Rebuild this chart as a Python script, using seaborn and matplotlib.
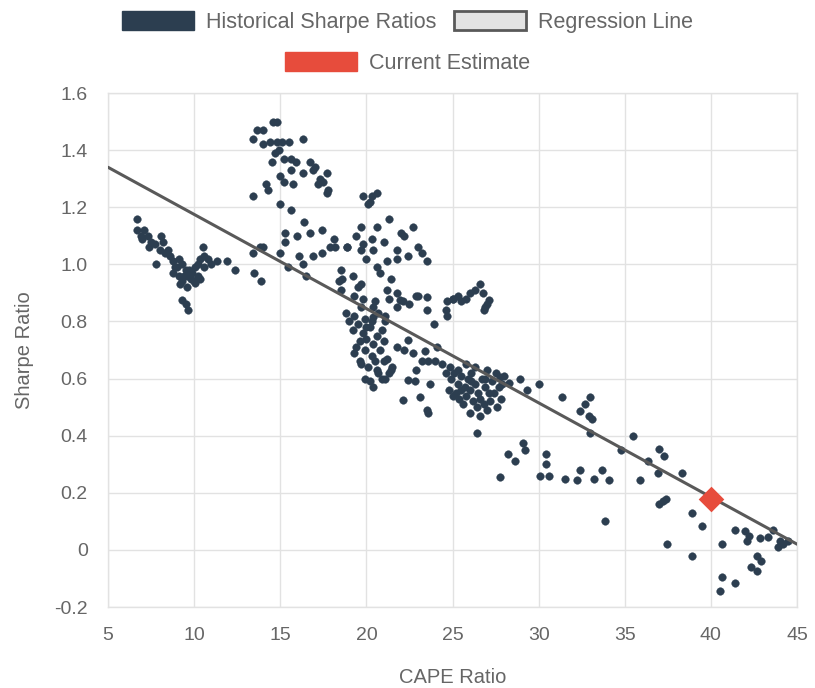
import matplotlib
matplotlib.use("Agg")
import matplotlib.pyplot as plt
import seaborn as sns
import pandas as pd
from matplotlib.patches import Patch

# Historical points, grouped by cluster (CAPE, Sharpe)
early_x = [6.7, 6.7, 6.9, 7.1, 7.3, 7.5, 7.7, 8.1, 8.2, 8.0, 8.5, 8.6, 7.8, 8.8, 9.1, 9.0, 9.3,
           9.5, 8.8, 9.1, 9.6, 9.3, 9.9, 10.05, 10.2, 10.5, 10.35, 10.6, 10.8, 11.0, 10.6, 10.35,
           10.05, 9.2, 9.6, 9.3, 9.5, 9.65, 11.3, 11.9, 12.4, 7.0, 7.4, 8.3, 9.8, 10.0, 9.4, 8.9,
           10.2, 9.7]
early_y = [1.16, 1.12, 1.10, 1.12, 1.10, 1.08, 1.07, 1.10, 1.08, 1.05, 1.05, 1.03, 1.00, 1.01,
           1.02, 0.99, 1.00, 0.98, 0.97, 0.96, 0.96, 0.94, 0.97, 0.99, 0.96, 1.06, 1.02, 1.03,
           1.02, 1.00, 0.99, 0.95, 0.935, 0.93, 0.92, 0.875, 0.86, 0.84, 1.01, 1.01, 0.98, 1.09,
           1.06, 1.04, 0.95, 0.94, 0.96, 0.99, 1.00, 0.98]

peak_x = [14.6, 14.8, 13.65, 14.0, 13.4, 14.0, 14.4, 14.8, 15.1, 15.5, 16.3, 14.7, 15.2, 15.6,
          14.5, 15.6, 16.3, 16.7, 17.0, 17.3, 17.7, 17.8, 15.0, 15.2, 15.75, 14.2, 14.3, 13.4,
          15.0, 17.2, 17.7, 16.9, 17.5, 14.9, 15.9]
peak_y = [1.50, 1.50, 1.47, 1.47, 1.44, 1.42, 1.43, 1.43, 1.43, 1.43, 1.44, 1.39, 1.37, 1.37,
          1.36, 1.33, 1.32, 1.36, 1.34, 1.30, 1.32, 1.26, 1.31, 1.29, 1.28, 1.28, 1.26, 1.24,
          1.21, 1.28, 1.25, 1.33, 1.29, 1.40, 1.36]

mid_x = [13.4, 13.8, 13.5, 13.9, 14.0, 15.0, 15.3, 15.3, 16.0, 16.4, 16.7, 17.4, 15.45, 16.1,
         16.3, 16.9, 17.4, 17.9, 18.1, 18.2, 18.5, 18.4, 18.9, 16.5, 15.6, 19.8, 20.2, 20.6,
         20.1, 20.3, 21.3, 19.7, 20.6, 22.0, 22.2, 22.7, 19.4, 19.8, 20.3, 21.0, 18.9, 19.7,
         20.4, 20.0, 21.8, 22.4, 23.0, 23.2, 23.5, 21.2, 21.8, 18.6, 19.2, 19.5, 19.3, 19.7,
         20.6, 20.8, 21.4, 21.2, 21.8, 21.95, 21.8, 22.5, 23.0, 23.5, 23.5, 23.9, 20.5, 20.4,
         19.8, 21.3, 22.1, 22.9, 25.0, 18.5]
mid_y = [1.04, 1.06, 0.97, 0.94, 1.06, 1.04, 1.11, 1.08, 1.10, 1.15, 1.11, 1.12, 0.99, 1.03,
         1.00, 1.03, 1.04, 1.06, 1.09, 1.06, 0.98, 0.94, 1.06, 0.96, 1.19, 1.24, 1.22, 1.25,
         1.21, 1.24, 1.16, 1.13, 1.13, 1.11, 1.10, 1.13, 1.10, 1.07, 1.09, 1.08, 1.06, 1.05,
         1.05, 1.02, 1.05, 1.03, 1.06, 1.04, 1.01, 1.01, 1.02, 0.95, 0.96, 0.92, 0.89, 0.93,
         0.99, 0.97, 0.95, 0.91, 0.90, 0.875, 0.85, 0.86, 0.89, 0.885, 0.84, 0.79, 0.87, 0.815,
         0.88, 0.88, 0.87, 0.89, 0.88, 0.91]

bump_x = [24.7, 25.0, 25.3, 25.5, 26.0, 26.6, 26.75, 27.1, 26.9, 26.8, 24.6, 24.7, 25.8, 26.3, 27.0]
bump_y = [0.87, 0.88, 0.89, 0.87, 0.90, 0.93, 0.90, 0.875, 0.85, 0.84, 0.84, 0.82, 0.88, 0.91, 0.86]

drop_x = [19.3, 19.9, 20.4, 21.1, 19.3, 19.7, 20.6, 20.9, 21.4, 21.8, 22.4, 22.2, 22.7, 23.4,
          23.6, 24.0, 24.4, 24.85, 25.3, 24.1, 22.4, 22.8, 23.7, 22.1, 23.1, 23.5, 23.6, 18.8,
          19.0, 19.2, 19.5, 19.8, 20.0, 20.2, 20.4, 20.6, 20.8, 21.0, 19.6, 19.9, 20.3, 20.5,
          20.1, 19.4, 19.6, 20.7, 21.1, 21.3, 21.5, 21.2, 20.9, 21.1, 20.7, 19.7, 20.0, 20.3,
          19.9, 20.2, 20.4, 21.0, 22.9, 23.2]
drop_y = [0.82, 0.81, 0.85, 0.82, 0.69, 0.65, 0.63, 0.60, 0.63, 0.71, 0.735, 0.70, 0.69, 0.695,
          0.66, 0.66, 0.65, 0.64, 0.63, 0.71, 0.595, 0.59, 0.58, 0.525, 0.535, 0.49, 0.48, 0.83,
          0.80, 0.77, 0.79, 0.76, 0.74, 0.78, 0.72, 0.75, 0.70, 0.73, 0.73, 0.70, 0.68, 0.66,
          0.64, 0.71, 0.66, 0.62, 0.60, 0.62, 0.64, 0.67, 0.77, 0.80, 0.83, 0.85, 0.78, 0.80,
          0.60, 0.59, 0.57, 0.66, 0.63, 0.66]

dense_x = [24.6, 24.9, 25.1, 25.3, 25.5, 25.7, 25.9, 26.1, 26.3, 26.5, 26.7, 26.9, 27.1, 27.3,
           27.5, 27.7, 27.8, 25.2, 25.4, 25.6, 25.8, 26.0, 26.2, 26.4, 26.6, 26.8, 27.0, 27.2,
           27.4, 27.6, 24.8, 25.0, 26.0, 26.6, 27.9, 28.0, 26.3, 25.8, 27.0, 26.1, 25.5, 26.9]
dense_y = [0.62, 0.60, 0.62, 0.58, 0.61, 0.57, 0.60, 0.62, 0.58, 0.55, 0.60, 0.57, 0.55, 0.59,
           0.62, 0.57, 0.53, 0.55, 0.53, 0.51, 0.54, 0.56, 0.52, 0.50, 0.53, 0.51, 0.49, 0.52,
           0.55, 0.50, 0.56, 0.54, 0.48, 0.47, 0.58, 0.61, 0.64, 0.65, 0.63, 0.59, 0.56, 0.60]

late_x = [27.75, 28.3, 28.9, 29.3, 30.0, 31.35, 33.0, 32.7, 32.4, 32.9, 33.1, 26.4, 33.0, 34.8,
          35.5, 36.35, 37.0, 37.3, 36.9, 38.3, 35.9, 29.1, 29.2, 28.2, 28.6, 27.75, 30.4, 30.4,
          30.1, 30.6, 31.5, 32.2, 32.4, 33.2, 33.7, 34.1, 33.85, 37.2, 37.0, 37.4, 37.45, 38.9,
          39.5, 38.9, 40.65, 41.4, 42.0, 42.1, 42.85, 43.3, 43.6, 43.9, 44.2, 44.0, 42.7, 42.9,
          42.3, 42.7, 40.65, 41.4, 40.5, 44.5, 42.2]
late_y = [0.605, 0.585, 0.60, 0.56, 0.58, 0.535, 0.535, 0.51, 0.485, 0.47, 0.46, 0.41, 0.41,
          0.35, 0.40, 0.31, 0.355, 0.33, 0.27, 0.27, 0.245, 0.375, 0.35, 0.335, 0.31, 0.255,
          0.335, 0.30, 0.26, 0.26, 0.25, 0.245, 0.28, 0.25, 0.28, 0.245, 0.10, 0.17, 0.16, 0.18,
          0.02, 0.13, 0.085, -0.02, 0.02, 0.07, 0.065, 0.03, 0.04, 0.045, 0.07, 0.01, 0.02, 0.03,
          -0.02, -0.04, -0.06, -0.075, -0.095, -0.115, -0.145, 0.03, 0.05]

# Regression line end points and current estimate
reg_x = [5, 45]
reg_y = [1.34, 0.02]
current_x = [40]
current_y = [0.18]

x_ticks = [5, 10, 15, 20, 25, 30, 35, 40, 45]
y_ticks = [-0.2, 0, 0.2, 0.4, 0.6, 0.8, 1.0, 1.2, 1.4, 1.6]
y_labels = ["-0.2", "0", "0.2", "0.4", "0.6", "0.8", "1.0", "1.2", "1.4", "1.6"]

hist = pd.DataFrame({
    "cape": early_x + peak_x + mid_x + bump_x + drop_x + dense_x + late_x,
    "sharpe": early_y + peak_y + mid_y + bump_y + drop_y + dense_y + late_y,
})

navy = "#2c3e50"
red = "#e74c3c"
line_gray = "#595959"
grid_c = "#e2e2e2"
text_c = "#666666"

sns.set_style("white")
plt.rcParams["font.family"] = ["Liberation Sans", "DejaVu Sans"]

fig = plt.figure(figsize=(8.15, 6.88), dpi=100)
ax = fig.add_axes([0.1325, 0.1177, 0.8455, 0.7471])

sns.scatterplot(data=hist, x="cape", y="sharpe", color=navy, s=30, edgecolor=navy,
                linewidth=0.3, ax=ax, zorder=3)
sns.lineplot(x=reg_x, y=reg_y, color=line_gray, linewidth=2.2, ax=ax, zorder=4)
ax.scatter(current_x, current_y, marker="D", s=170, color=red, zorder=5, linewidths=0)

ax.set_xlim(5, 45)
ax.set_ylim(-0.2, 1.6)
ax.set_xticks(x_ticks)
ax.set_yticks(y_ticks)
ax.set_yticklabels(y_labels)
ax.grid(True, color=grid_c, linewidth=1)
ax.set_axisbelow(True)
for sp in ax.spines.values():
    sp.set_color(grid_c)
    sp.set_linewidth(1)
ax.tick_params(axis="both", colors=grid_c, labelcolor=text_c, labelsize=14, length=10,
               width=1, pad=4.5)
ax.set_xlabel("CAPE Ratio", color=text_c, fontsize=14.5)
ax.set_ylabel("Sharpe Ratio", color=text_c, fontsize=14.5)
ax.xaxis.set_label_coords(0.5, -0.138)
ax.xaxis.label.set_va("center")
ax.yaxis.set_label_coords(-0.1205, 0.5)
ax.yaxis.label.set_va("center")

box_kw = dict(frameon=False, fontsize=15.5, handlelength=3.35, handleheight=0.98,
              handletextpad=0.55, columnspacing=0.8, labelcolor=text_c, loc="center")
top_handles = [
    Patch(facecolor=navy, edgecolor=navy),
    Patch(facecolor="#e3e3e3", edgecolor=line_gray, linewidth=2),
]
fig.legend(top_handles, ["Historical Sharpe Ratios", "Regression Line"],
           bbox_to_anchor=(0.5, 0.968), ncol=2, **box_kw)
fig.legend([Patch(facecolor=red, edgecolor=red)], ["Current Estimate"],
           bbox_to_anchor=(0.5, 0.908), **box_kw)

fig.savefig("out.png", dpi=100)
